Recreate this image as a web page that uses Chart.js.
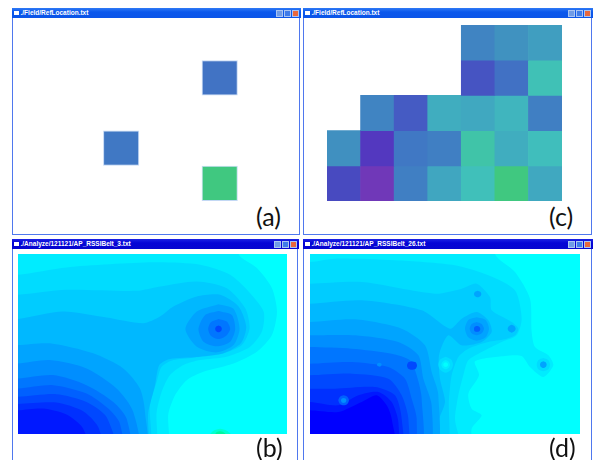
<!DOCTYPE html>
<html>
<head>
<meta charset="utf-8">
<script src="https://cdn.jsdelivr.net/npm/chart.js"></script>
<style>
  html, body { margin: 0; padding: 0; background: #fff; overflow: hidden; }
  body { width: 593px; height: 460px; position: relative; font-family: "Liberation Sans", sans-serif; filter: blur(0.35px); }
  canvas { position: absolute; display: block; }
  .win { position: absolute; box-sizing: border-box; border: 1.5px solid #4f78ee; border-top: 0; background: #fff; }
  .bar { position: absolute; left: -1.5px; right: -1.5px; top: 0; height: 10px; color: #fff; font-size: 6.5px; font-weight: bold; line-height: 10px; white-space: nowrap; }
  .top .bar { background: linear-gradient(#2f7af5, #0b58ec 40%, #0b55e8); }
  .low .bar { background: linear-gradient(#1c22e4, #0505d6 40%, #0606d0); }
  .bar i { position: absolute; left: 2px; top: 2.5px; width: 5px; height: 4px; background: #fff; }
  .bar span { position: absolute; left: 9px; top: 0; }
  .bar b { position: absolute; top: 1.5px; width: 7px; height: 7.5px; background: #3f7be8; border: .5px solid #a9c4f2; box-sizing: border-box; }
  .bar b.m { background: #6f9be6; }
  .bar b.x { background: #e8683c; }
  .tag { position: absolute; font-family: Lato, sans-serif; font-size: 25px; line-height: 28px; color: #111; }
</style>
</head>
<body>
<div class="win top" style="left:12px;top:8px;width:288px;height:227px"><div class="bar"><i></i><span>./Field/RefLocation.txt</span><b class="m" style="right:18px"></b><b style="right:10px"></b><b class="x" style="right:2px"></b></div></div>
<div class="win top" style="left:303px;top:8px;width:289px;height:227px"><div class="bar"><i></i><span>./Field/RefLocation.txt</span><b class="m" style="right:18px"></b><b style="right:10px"></b><b class="x" style="right:2px"></b></div></div>
<div class="win low" style="left:12px;top:239px;width:286px;height:225px"><div class="bar"><i></i><span>./Analyze/121121/AP_RSSIBelt_3.txt</span><b class="m" style="right:18px"></b><b style="right:10px"></b><b class="x" style="right:2px"></b></div></div>
<div class="win low" style="left:303px;top:239px;width:289px;height:225px"><div class="bar"><i></i><span>./Analyze/121121/AP_RSSIBelt_26.txt</span><b class="m" style="right:18px"></b><b style="right:10px"></b><b class="x" style="right:2px"></b></div></div>

<canvas id="chartA" width="230" height="176" style="left:39px;top:25px"></canvas>
<canvas id="chartC" width="235" height="176" style="left:327px;top:25px"></canvas>
<canvas id="chartB" width="269" height="180" style="left:18px;top:254px"></canvas>
<canvas id="chartD" width="270" height="180" style="left:310px;top:254px"></canvas>

<div class="tag" style="left:256px;top:202px">(a)</div>
<div class="tag" style="left:549px;top:202px">(c)</div>
<div class="tag" style="left:256px;top:433px">(b)</div>
<div class="tag" style="left:549px;top:433px">(d)</div>

<script>
// grid cells, null = no reading. rows run top to bottom
const columns = ["0", "1", "2", "3", "4", "5", "6"];
const rowsA = [
    [null, null, null, null, null, null, null],
    [null, null, null, null, null, 38, null],
    [null, null, null, null, null, null, null],
    [null, null, 40, null, null, null, null],
    [null, null, null, null, null, 100, null]
];
const rowsC = [
    [null, null, null, null, 45, 51, 56],
    [null, null, null, null, 25, 37, 78],
    [null, 45, 28, 63, 60, 68, 43],
    [50, 11, 40, 43, 85, 63, 74],
    [21, 0, 43, 59, 76, 100, 60]
];

// contour lines, outermost first. [x, y] in field units, y grows downwards
const mapB = [
    [[-60, -60], [920, -60], [920, 660], [-60, 660]],
    [[-60, -60], [715, -60], [715, 68], [770, 110], [815, 170], [830, 240], [815, 310], [770, 360], [700, 395], [610, 420], [560, 445], [525, 490], [505, 545], [495, 660], [-60, 660]],
    [[-60, 132], [55, 130], [200, 108], [460, 93], [600, 100], [690, 130], [745, 180], [790, 240], [785, 300], [750, 345], [680, 375], [600, 385], [550, 400], [510, 430], [485, 480], [470, 540], [458, 660], [-60, 660]],
    [[-60, 192], [55, 190], [200, 175], [410, 178], [480, 165], [590, 150], [680, 170], [735, 230], [748, 290], [725, 340], [660, 368], [580, 378], [520, 385], [485, 405], [470, 450], [450, 520], [440, 660], [-60, 660]],
    [[-60, 264], [55, 262], [190, 240], [320, 258], [430, 275], [480, 255], [520, 225], [590, 195], [660, 190], [715, 225], [738, 285], [722, 335], [670, 365], [590, 376], [510, 382], [478, 400], [465, 460], [445, 540], [432, 660], [-60, 660]],
    [[-60, 342], [55, 340], [150, 335], [280, 365], [370, 410], [420, 470], [435, 540], [432, 660], [-60, 660]],
    [[-60, 397], [55, 395], [150, 385], [260, 410], [350, 470], [400, 540], [410, 660], [-60, 660]],
    [[-60, 442], [55, 440], [160, 430], [260, 460], [340, 510], [380, 560], [385, 660], [-60, 660]],
    [[-60, 472], [55, 470], [160, 460], [260, 485], [325, 530], [360, 575], [362, 660], [-60, 660]],
    [[-60, 497], [55, 495], [170, 487], [260, 510], [320, 555], [342, 660], [-60, 660]],
    [[-60, 518], [55, 516], [170, 512], [250, 538], [295, 585], [305, 660], [-60, 660]],
    [[-60, 537], [55, 535], [130, 530], [200, 548], [250, 590], [262, 660], [-60, 660]]
];
const spotsB = [
    { level: 5, pts: [[655, 218], [700, 232], [718, 292], [700, 340], [650, 362], [590, 345], [556, 292], [590, 240], [655, 218]] },
    { level: 6, pts: [[655, 238], [695, 250], [705, 292], [690, 330], [650, 344], [610, 330], [595, 292], [615, 250], [655, 238]] },
    { level: 7, pts: [[655, 262], [680, 270], [690, 292], [678, 312], [655, 322], [632, 312], [624, 292], [632, 272], [655, 262]] },
    { level: 9, pts: [[655, 282], [662, 285], [665, 292], [662, 299], [655, 302], [648, 299], [645, 292], [648, 285], [655, 282]] }
];
const warmB = [
    [[625, 612], [640, 596], [660, 590], [680, 596], [695, 612], [660, 625], [625, 612]],
    [[642, 612], [650, 600], [662, 598], [672, 602], [680, 612], [660, 620], [642, 612]]
];
const mapD = [
    [[-60, -60], [920, -60], [920, 660], [-60, 660]],
    [[-60, -60], [600, -60], [600, 66], [660, 120], [705, 200], [710, 300], [720, 345], [760, 370], [775, 400], [745, 435], [705, 405], [680, 372], [630, 372], [540, 388], [552, 430], [520, 485], [530, 530], [560, 550], [530, 590], [525, 660], [-60, 660]],
    [[-60, 92], [45, 90], [120, 80], [300, 85], [480, 100], [580, 130], [660, 175], [680, 260], [665, 310], [620, 330], [560, 360], [520, 385], [505, 430], [490, 490], [480, 560], [490, 660], [-60, 660]],
    [[-60, 155], [45, 155], [200, 150], [420, 185], [500, 170], [545, 155], [585, 195], [590, 235], [650, 270], [670, 290], [660, 310], [630, 322], [580, 330], [520, 350], [490, 375], [470, 430], [462, 500], [445, 660], [-60, 660]],
    [[-60, 215], [45, 215], [200, 205], [380, 235], [465, 290], [500, 260], [545, 240], [580, 265], [590, 300], [560, 330], [500, 340], [460, 310], [432, 370], [435, 440], [450, 510], [430, 570], [435, 660], [-60, 660]],
    [[-60, 270], [45, 270], [180, 262], [320, 290], [390, 340], [410, 420], [430, 490], [415, 660], [-60, 660]],
    [[-60, 310], [45, 310], [180, 310], [310, 330], [370, 370], [385, 440], [410, 520], [395, 660], [-60, 660]],
    [[-60, 345], [45, 345], [170, 350], [290, 365], [345, 385], [365, 430], [380, 500], [370, 660], [-60, 660]],
    [[-60, 395], [45, 395], [170, 390], [280, 405], [330, 440], [350, 500], [365, 560], [350, 660], [-60, 660]],
    [[-60, 430], [45, 430], [170, 425], [280, 440], [320, 490], [340, 560], [330, 660], [-60, 660]],
    [[-60, 470], [45, 470], [120, 470], [240, 465], [300, 490], [320, 560], [315, 660], [-60, 660]],
    [[-60, 510], [45, 510], [130, 520], [190, 490], [250, 480], [290, 510], [310, 570], [300, 660], [-60, 660]],
    [[-60, 535], [45, 535], [130, 540], [200, 510], [245, 490], [275, 520], [290, 560], [295, 660], [-60, 660]]
];
const spotsD = [
    { level: 5, pts: [[545, 256], [572, 264], [582, 290], [572, 316], [545, 326], [520, 316], [510, 290], [520, 264], [545, 256]] },
    { level: 6, pts: [[545, 270], [560, 276], [567, 290], [560, 304], [545, 310], [530, 304], [524, 290], [530, 276], [545, 270]] },
    { level: 8, pts: [[546, 282], [553, 284], [556, 291], [553, 298], [546, 300], [539, 298], [537, 291], [539, 284], [546, 282]] },
    { level: 5, pts: [[548, 176], [556, 179], [559, 186], [556, 193], [548, 196], [540, 193], [537, 186], [540, 179], [548, 176]] },
    { level: 5, pts: [[650, 278], [658, 282], [662, 290], [658, 298], [650, 302], [642, 298], [638, 290], [642, 282], [650, 278]] },
    { level: 2, pts: [[745, 378], [760, 384], [765, 398], [760, 412], [745, 418], [730, 412], [725, 398], [730, 384], [745, 378]] },
    { level: 5, pts: [[745, 388], [752, 391], [755, 398], [752, 405], [745, 408], [738, 405], [735, 398], [738, 391], [745, 388]] },
    { level: 2, pts: [[452, 374], [468, 382], [474, 398], [468, 414], [452, 422], [436, 414], [430, 398], [436, 382], [452, 374]] },
    { level: 1, pts: [[452, 384], [461, 389], [465, 398], [461, 407], [452, 412], [443, 407], [439, 398], [443, 389], [452, 384]] },
    { level: 0, pts: [[452, 391], [457, 393], [459, 398], [457, 403], [452, 405], [447, 403], [445, 398], [447, 393], [452, 391]] },
    { level: 9, pts: [[350, 388], [362, 391], [366, 401], [362, 410], [350, 413], [340, 410], [336, 401], [340, 391], [350, 388]] },
    { level: 6, pts: [[253, 392], [258, 394], [260, 398], [258, 402], [253, 404], [248, 402], [246, 398], [248, 394], [253, 392]] },
    { level: 8, pts: [[146, 490], [157, 494], [162, 505], [157, 516], [146, 520], [135, 516], [130, 505], [135, 494], [146, 490]] },
    { level: 6, pts: [[146, 498], [152, 500], [154, 505], [152, 511], [146, 513], [140, 511], [138, 505], [140, 500], [146, 498]] }
];

// map levels from cyan to deep blue, then the warm end
const levelColors = ["#00ffff", "#00ecff", "#00dcff", "#00ccff", "#00b8ff", "#00a4ff", "#008eff", "#0076ff", "#0060ff", "#0048ff", "#0030ff", "#0018ff", "#0000ff"];
const warmColors = ["#00ffd0", "#00f5a0"];

// cell value -> colour, purple through blue and teal to green
const cellStops = [
    [0, [112, 56, 184]], [12, [80, 56, 192]], [20, [72, 72, 192]], [30, [68, 96, 196]], [40, [64, 120, 196]],
    [50, [64, 144, 192]], [60, [64, 168, 192]], [75, [64, 192, 188]], [85, [64, 196, 168]], [100, [64, 200, 128]]
];

function cellColor(v) {
    let i = 0;
    while (i < cellStops.length - 2 && v > cellStops[i + 1][0]) i++;
    const [v0, c0] = cellStops[i];
    const [v1, c1] = cellStops[i + 1];
    const t = (v - v0) / (v1 - v0);
    const rgb = c0.map((c, k) => Math.round(c + (c1[k] - c) * t));
    return `rgb(${rgb.join(",")})`;
}

function gridChart(id, rows, barPercentage, borderColor) {
    // one floating bar dataset per row, so every cell gets its own row span
    const datasets = rows.map((row, r) => ({
        data: row.map(v => v === null ? null : [rows.length - r - 1, rows.length - r]),
        backgroundColor: row.map(v => v === null ? "transparent" : cellColor(v)),
        borderColor: borderColor,
        borderWidth: borderColor ? 1 : 0,
        borderSkipped: false,
        grouped: false,
        barPercentage: barPercentage,
        categoryPercentage: 1
    }));
    new Chart(document.getElementById(id), {
        type: "bar",
        data: { labels: columns, datasets: datasets },
        options: {
            responsive: false,
            animation: false,
            layout: { padding: 0 },
            plugins: { legend: { display: false }, tooltip: { enabled: false } },
            scales: {
                x: { display: false },
                y: { display: false, min: 0, max: rows.length }
            }
        }
    });
}

function shape(pts, color) {
    return {
        data: pts.map(([x, y]) => ({ x, y })),
        showLine: true,
        fill: "shape",
        backgroundColor: color,
        borderWidth: 0,
        pointRadius: 0,
        tension: 0.25
    };
}

function mapChart(id, shapes, xRange, yRange) {
    new Chart(document.getElementById(id), {
        type: "scatter",
        // first dataset is painted last, the outermost contour has to go down first
        data: { datasets: shapes.slice().reverse() },
        options: {
            responsive: false,
            animation: false,
            layout: { padding: 0 },
            plugins: { legend: { display: false }, tooltip: { enabled: false } },
            scales: {
                x: { display: false, min: xRange[0], max: xRange[1] },
                y: { display: false, reverse: true, min: yRange[0], max: yRange[1] }
            }
        }
    });
}

gridChart("chartA", rowsA, 1.1, "rgba(170,200,240,0.7)");
gridChart("chartC", rowsC, 1, null);

mapChart("chartB",
    mapB.map((pts, i) => shape(pts, levelColors[i]))
        .concat(spotsB.map(s => shape(s.pts, levelColors[s.level])))
        .concat(warmB.map((pts, i) => shape(pts, warmColors[i]))),
    [55, 860], [68, 606]);
mapChart("chartD",
    mapD.map((pts, i) => shape(pts, levelColors[i]))
        .concat(spotsD.map(s => shape(s.pts, levelColors[s.level]))),
    [45, 855], [66, 606]);
</script>
</body>
</html>
